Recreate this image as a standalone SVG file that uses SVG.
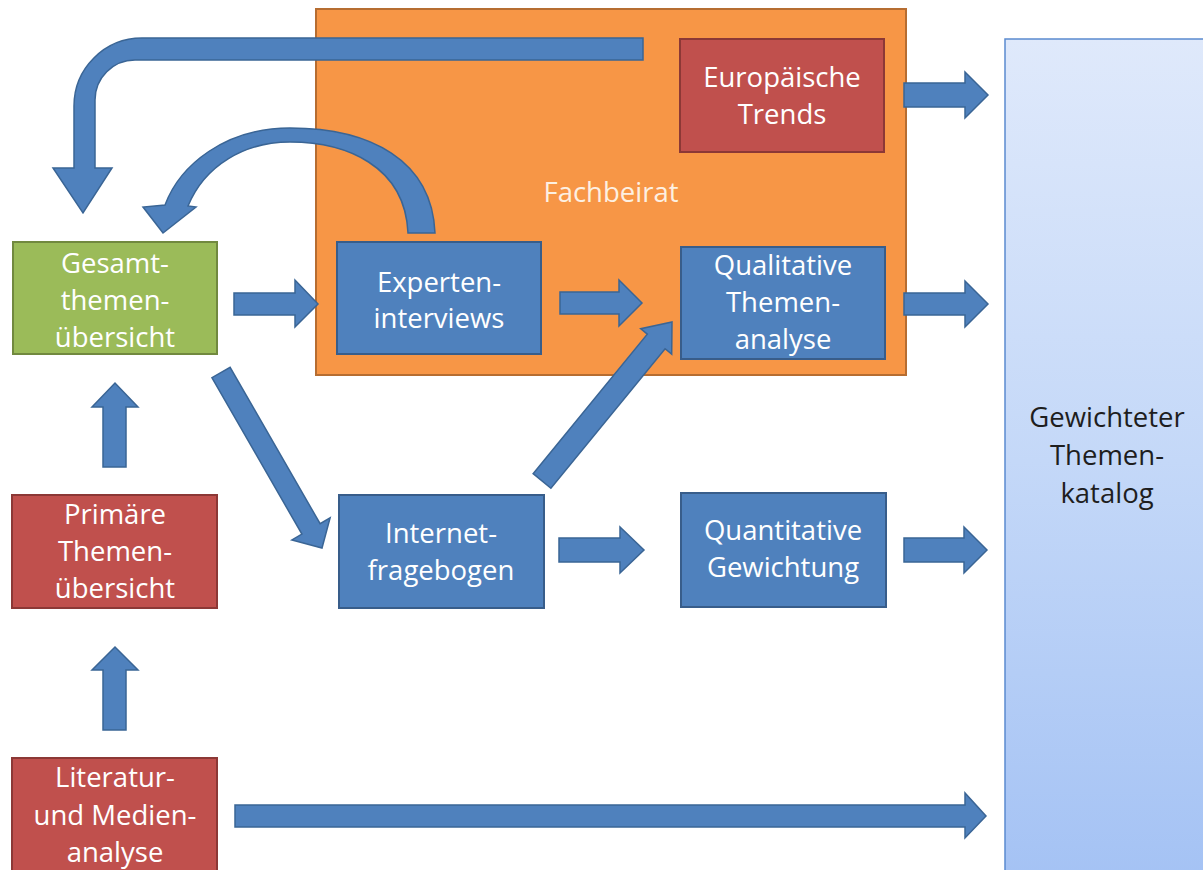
<svg xmlns="http://www.w3.org/2000/svg" width="1203" height="870" viewBox="0 0 1203 870">
<defs>
<linearGradient id="gk" x1="0" y1="0" x2="0" y2="1">
<stop offset="0" stop-color="#dfe9fb"/>
<stop offset="0.5" stop-color="#c4d8f8"/>
<stop offset="1" stop-color="#a4c2f4"/>
</linearGradient>
<style>
.t{font-family:"Open Sans","Noto Sans","Liberation Sans",sans-serif;font-size:27.5px;fill:#ffffff;text-anchor:middle}
.dk{fill:#1e1e1e}
.blue{fill:#4f81bd;stroke:#385d8a;stroke-width:2}
.red{fill:#c0504d;stroke:#8c3836;stroke-width:2}
.green{fill:#9bbb59;stroke:#71893f;stroke-width:2}
.orange{fill:#f79646;stroke:#b66d31;stroke-width:2}
.arr{fill:#4f81bd;stroke:#3a6595;stroke-width:1.5;stroke-linejoin:miter}
</style>
</defs>
<rect width="1203" height="870" fill="#ffffff"/>

<g id="fachbeirat">
<rect class="orange" x="316" y="9" width="590" height="366"/>
<text class="t" x="611" y="202" fill="#fdf0e2" style="fill:#fdf0e2">Fachbeirat</text>
</g>

<g id="katalog">
<rect x="1005" y="39" width="210" height="845" fill="url(#gk)" stroke="#5b8bd0" stroke-width="1.5"/>
<text class="t dk" x="1107" y="427">Gewichteter</text>
<text class="t dk" x="1107" y="465">Themen-</text>
<text class="t dk" x="1107" y="503">katalog</text>
</g>

<g id="europaeische">
<rect class="red" x="680" y="39" width="204" height="113"/>
<text class="t" x="782" y="87">Europäische</text>
<text class="t" x="782" y="124">Trends</text>
</g>

<g id="qualitative">
<rect class="blue" x="681" y="247" width="204" height="112"/>
<text class="t" x="783" y="275">Qualitative</text>
<text class="t" x="783" y="312">Themen-</text>
<text class="t" x="783" y="349">analyse</text>
</g>

<g id="experten">
<rect class="blue" x="337" y="242" width="204" height="112"/>
<text class="t" x="439" y="292">Experten-</text>
<text class="t" x="439" y="328">interviews</text>
</g>

<g id="gesamt">
<rect class="green" x="13" y="242" width="204" height="112"/>
<text class="t" x="115" y="273">Gesamt-</text>
<text class="t" x="115" y="310">themen-</text>
<text class="t" x="115" y="347">übersicht</text>
</g>

<g id="primaere">
<rect class="red" x="12" y="495" width="205" height="113"/>
<text class="t" x="115" y="524">Primäre</text>
<text class="t" x="115" y="561">Themen-</text>
<text class="t" x="115" y="598">übersicht</text>
</g>

<g id="literatur">
<rect class="red" x="12" y="758" width="205" height="125"/>
<text class="t" x="115" y="787">Literatur-</text>
<text class="t" x="115" y="825">und Medien-</text>
<text class="t" x="115" y="862">analyse</text>
</g>

<g id="internet">
<rect class="blue" x="339" y="495" width="205" height="113"/>
<text class="t" x="441" y="543">Internet-</text>
<text class="t" x="441" y="580">fragebogen</text>
</g>

<g id="quantitative">
<rect class="blue" x="681" y="493" width="205" height="114"/>
<text class="t" x="783" y="540">Quantitative</text>
<text class="t" x="783" y="577">Gewichtung</text>
</g>

<g id="connectors">
<!-- big curved arrow from Fachbeirat to Gesamt -->
<path class="arr" d="M643,38 L142,38 A68 68 0 0 0 74,106 L74,168 L53,168 L83,213 L112,168 L95,168 L95,100 A40 40 0 0 1 135,60 L643,60 Z"/>
<!-- curved arrow Experten to Gesamt -->
<path class="arr" d="M435,233 C432,160 370,128 290,128 C225,128 180,165 165,205 L143,207 L163,233 L196,207 L188,206 C205,165 245,142 290,142 C345,142 405,165 408,233 Z"/>
<!-- horizontal arrows -->
<path class="arr" d="M234,293 L295,293 L295,280 L318,304 L295,327 L295,315 L234,315 Z"/>
<path class="arr" d="M560,292 L619,292 L619,280 L642,303 L619,326 L619,314 L560,314 Z"/>
<path class="arr" d="M904,83 L965,83 L965,72 L988,95 L965,118 L965,107 L904,107 Z"/>
<path class="arr" d="M904,293 L965,293 L965,281 L988,304 L965,327 L965,315 L904,315 Z"/>
<path class="arr" d="M559,538 L620,538 L620,527 L644,550 L620,573 L620,562 L559,562 Z"/>
<path class="arr" d="M904,538 L964,538 L964,527 L987,550 L964,573 L964,562 L904,562 Z"/>
<path class="arr" d="M235,805 L965,805 L965,793 L986,816 L965,838 L965,827 L235,827 Z"/>
<!-- up arrows -->
<path class="arr" d="M103,467 L103,407 L92,407 L115,383 L138,407 L126,407 L126,467 Z"/>
<path class="arr" d="M103,730 L103,670 L92,670 L115,647 L138,670 L126,670 L126,730 Z"/>
<!-- diagonal arrows -->
<path class="arr" d="M211.9,377.7 L301.9,534.1 L291.9,539.9 L322,548 L330.1,517.9 L320.1,523.7 L230.1,367.3 Z"/>
<path class="arr" d="M533.1,473.7 L647.3,334.1 L640.7,328.7 L672,322 L671.7,354.1 L665.1,348.7 L550.9,488.3 Z"/>
</g>
</svg>
